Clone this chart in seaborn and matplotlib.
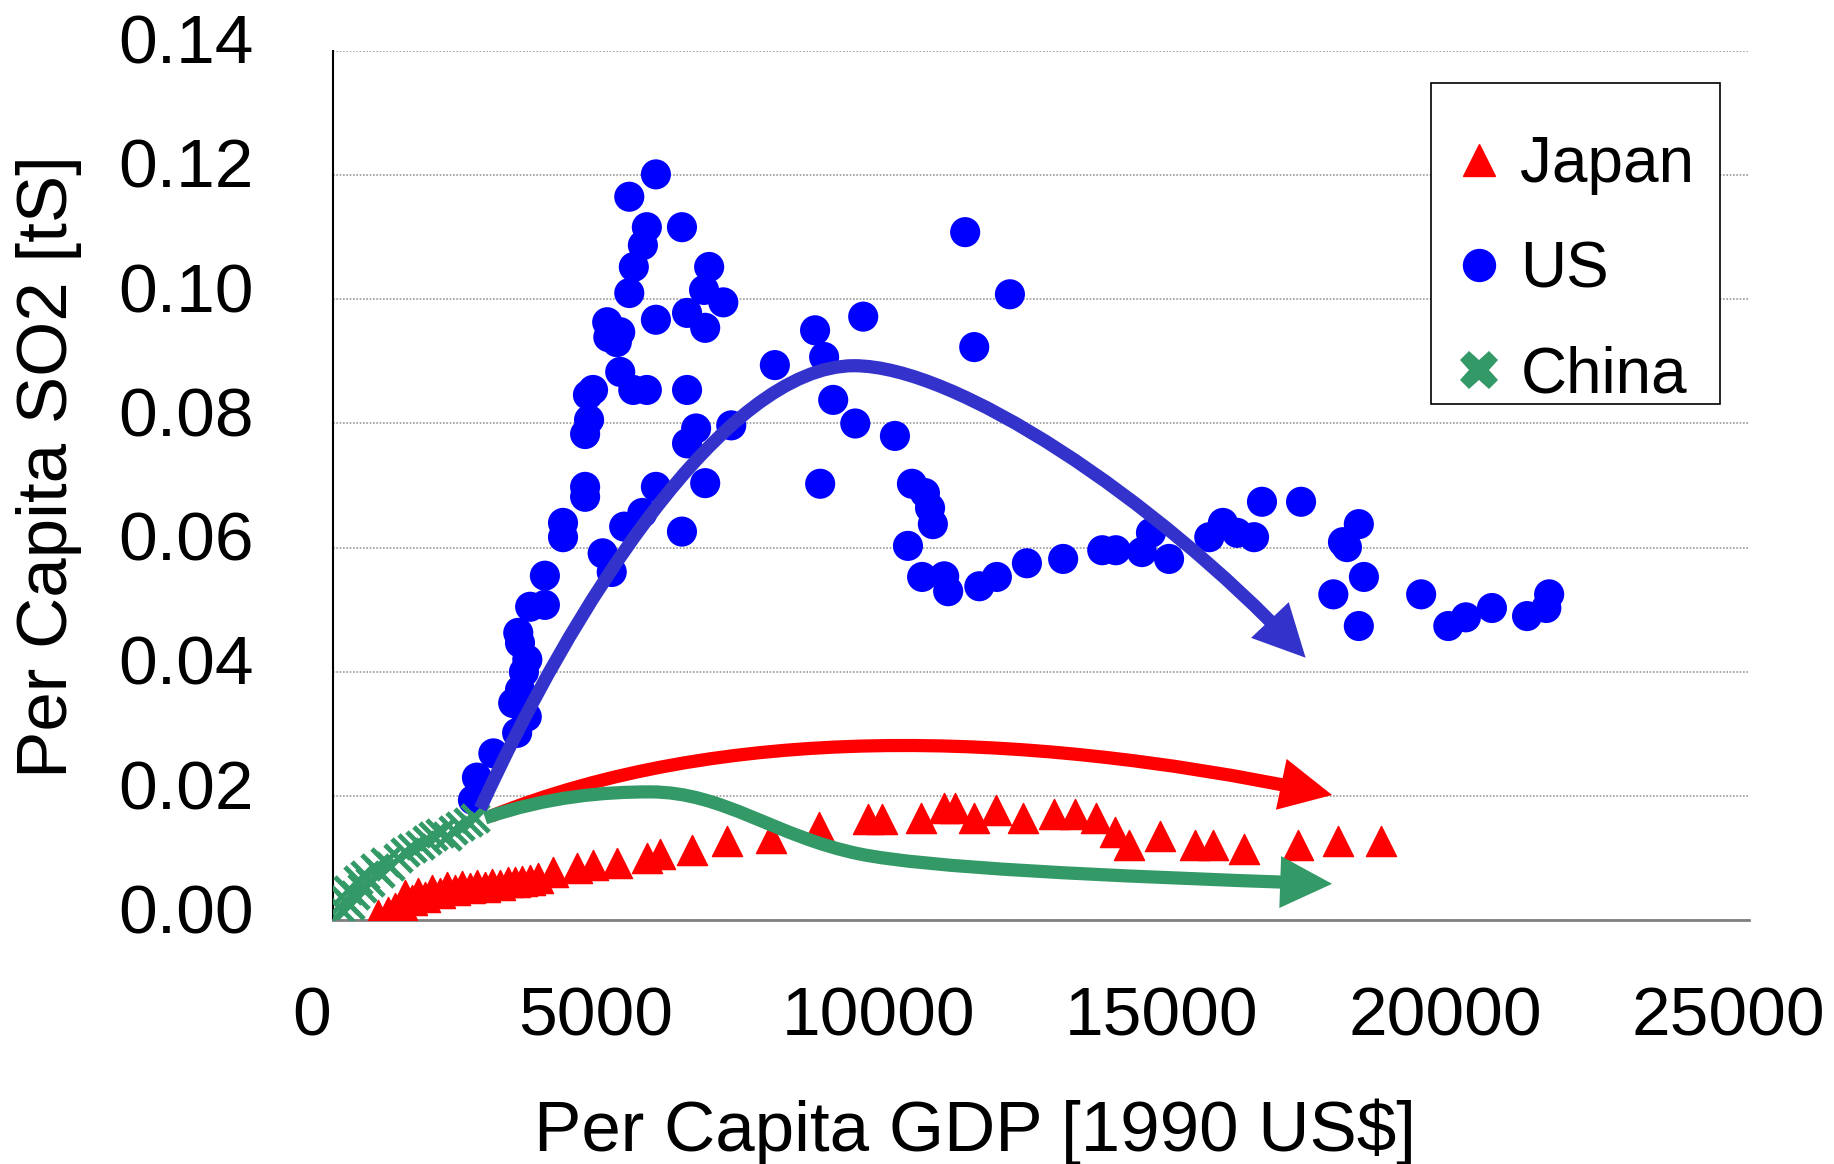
import numpy as np
import pandas as pd
import matplotlib
matplotlib.use("Agg")
import matplotlib.pyplot as plt
import seaborn as sns
import matplotlib.transforms as mtransforms
from matplotlib.path import Path
from matplotlib.patches import FancyArrowPatch, Rectangle
from matplotlib.lines import Line2D
from matplotlib.ticker import FormatStrFormatter

# values (GDP per capita, SO2 per capita)
japan_gdp = [794, 971, 1095, 1218, 1271, 1395, 1501, 1624, 1748, 1889, 2013, 2154,
             2278, 2419, 2542, 2684, 2807, 2948, 3090, 3213, 3337, 3478, 3619, 3885,
             4308, 4590, 5014, 5544, 5773, 6338, 6956, 7733, 8580, 9446, 9693, 10381,
             10787, 10982, 11317, 11706, 12182, 12730, 13100, 13471, 13806, 14054,
             14601, 15219, 15537, 16084, 17037, 17744, 18503]
japan_so2 = [0.0009, 0.0014, 0.0020, 0.0025, 0.0041, 0.0033, 0.0044, 0.0038, 0.0049,
             0.0044, 0.0054, 0.0049, 0.0056, 0.0052, 0.0057, 0.0054, 0.0059, 0.0057,
             0.0062, 0.0062, 0.0064, 0.0065, 0.0068, 0.0078, 0.0085, 0.0089, 0.0093,
             0.0101, 0.0107, 0.0113, 0.0128, 0.0133, 0.0150, 0.0163, 0.0163, 0.0165,
             0.0181, 0.0181, 0.0165, 0.0178, 0.0165, 0.0171, 0.0171, 0.0165, 0.0143,
             0.0122, 0.0136, 0.0122, 0.0122, 0.0115, 0.0122, 0.0128, 0.0128]

us_gdp = [2470, 2540, 2830, 3180, 3250, 3420, 3300, 3370, 3430, 3270, 3300, 3480,
          3740, 3740, 4060, 4060, 4450, 4450, 4450, 4520, 4500, 4590, 4760, 4920,
          5140, 5460, 5700, 6160, 6570, 6250, 6410, 7030, 5070, 5300, 5540, 6250,
          4840, 5070, 4860, 5010, 5230, 5310, 5470, 5540, 5230, 5700, 6160, 5700,
          6550, 6640, 6250, 6570, 6890, 7800, 8510, 8670, 8830, 8600, 9360, 9220,
          9920, 11320, 11160, 11950, 10220, 10450, 10540, 10590, 10150, 10400, 10790,
          10860, 11410, 11720, 12250, 12890, 13580, 13820, 14280, 14440, 14760, 15470,
          15710, 15960, 16260, 16400, 17090, 18110, 17830, 17900, 18200, 17660, 18110,
          19210, 19690, 20000, 20460, 21080, 21420, 21470]
us_so2 = [0.0194, 0.0230, 0.0269, 0.0350, 0.0302, 0.0328, 0.0371, 0.0400, 0.0420,
          0.0463, 0.0447, 0.0505, 0.0508, 0.0555, 0.0640, 0.0617, 0.0698, 0.0682,
          0.0783, 0.0806, 0.0846, 0.0854, 0.0591, 0.0561, 0.0634, 0.0656, 0.0698,
          0.0626, 0.0704, 0.0768, 0.0792, 0.0797, 0.0883, 0.0854, 0.0854, 0.0854,
          0.0963, 0.0947, 0.0939, 0.0931, 0.1010, 0.1052, 0.1087, 0.1116, 0.1165,
          0.1201, 0.1116, 0.0967, 0.1015, 0.1052, 0.0978, 0.0954, 0.0995, 0.0894,
          0.0950, 0.0907, 0.0838, 0.0703, 0.0972, 0.0800, 0.0780, 0.0923, 0.1108,
          0.1008, 0.0703, 0.0688, 0.0664, 0.0638, 0.0603, 0.0553, 0.0554, 0.0530,
          0.0538, 0.0553, 0.0575, 0.0582, 0.0596, 0.0596, 0.0593, 0.0624, 0.0582,
          0.0617, 0.0640, 0.0624, 0.0617, 0.0674, 0.0674, 0.0638, 0.0609, 0.0601,
          0.0553, 0.0525, 0.0474, 0.0525, 0.0474, 0.0488, 0.0503, 0.0490, 0.0503,
          0.0525]

china_gdp = [159, 212, 300, 265, 388, 441, 512, 565, 653, 742, 830, 918, 1006, 1148,
             1271, 1395, 1536, 1660, 1766, 1889, 2013, 2119, 2242, 2383, 2507]
china_so2 = [0.0017, 0.0033, 0.0025, 0.0049, 0.0041, 0.0065, 0.0052, 0.0073, 0.0062,
             0.0084, 0.0076, 0.0094, 0.0088, 0.0101, 0.0110, 0.0117, 0.0122, 0.0130,
             0.0136, 0.0141, 0.0136, 0.0146, 0.0152, 0.0159, 0.0165]

countries = ['Japan', 'US', 'China']
colors = {'Japan': '#FF0000', 'US': '#0000FF', 'China': '#339966'}

# hand drawn trend arrows (bezier control points, data coords)
red_arrow = [(2790, 0.0168), (6800, 0.0315), (12000, 0.0310), (17638, 0.0202)]
green_arrow = [(2684, 0.0165), (3800, 0.0200), (4800, 0.0207), (5600, 0.0207),
               (6900, 0.0207), (7800, 0.0135), (9300, 0.0107),
               (10500, 0.0085), (13500, 0.0072), (17638, 0.0059)]
blue_arrow = [(2600, 0.0180), (4200, 0.0500), (6900, 0.0893), (9200, 0.0893),
              (11000, 0.0893), (14500, 0.0680), (17170, 0.0423)]

sns.set_style('white')
plt.rcParams['font.family'] = ['Liberation Sans', 'DejaVu Sans']
plt.rcParams['text.color'] = 'black'
plt.rcParams['axes.labelcolor'] = 'black'
plt.rcParams['xtick.color'] = 'black'
plt.rcParams['ytick.color'] = 'black'

fig = plt.figure(figsize=(18.34, 11.64), dpi=100)
ax = fig.add_axes([0.1816, 0.2092, 0.7721, 0.7472])

sns.scatterplot(x=japan_gdp, y=japan_so2, marker='^', s=470, color=colors['Japan'],
                edgecolor=colors['Japan'], linewidth=1, ax=ax, zorder=3)
sns.scatterplot(x=us_gdp, y=us_so2, marker='o', s=470, color=colors['US'],
                edgecolor='none', ax=ax, zorder=3)
sns.scatterplot(x=china_gdp, y=china_so2, marker='x', s=380, color=colors['China'],
                linewidth=3.5, ax=ax, zorder=3)


def add_arrow(pts, color, z):
    codes = [Path.MOVETO] + [Path.CURVE4] * (len(pts) - 1)
    p = FancyArrowPatch(path=Path(pts, codes),
                        arrowstyle='-|>,head_length=1.1,head_width=0.55',
                        mutation_scale=20, lw=9.5, color=color,
                        transform=ax.transData, zorder=z,
                        joinstyle='miter', capstyle='butt')
    ax.add_patch(p)


add_arrow(red_arrow, '#FF0000', 5)
add_arrow(green_arrow, '#339966', 6)
add_arrow(blue_arrow, '#3333CC', 7)

ax.set_xlim(0, 25000)
ax.set_ylim(0, 0.14)
ax.set_xticks(range(0, 25001, 5000))
ax.set_yticks(np.arange(0, 0.1401, 0.02))
ax.yaxis.set_major_formatter(FormatStrFormatter('%.2f'))
ax.tick_params(direction='in', length=15.8, width=1.2, labelsize=50,
               color='black', labelcolor='black')
ax.tick_params(axis='x', pad=47)
ax.tick_params(axis='y', pad=57)

ax.yaxis.grid(True, color='#999999', lw=1.2, ls=(0, (1, 1)))
ax.xaxis.grid(False)
ax.set_axisbelow(True)
for s in ['top', 'right']:
    ax.spines[s].set_visible(False)
ax.spines['left'].set_color('black')
ax.spines['left'].set_linewidth(1.5)
ax.spines['bottom'].set_color('#808080')
ax.spines['bottom'].set_linewidth(2)

dx = mtransforms.ScaledTranslation(-0.21, 0, fig.dpi_scale_trans)
for t in ax.xaxis.get_major_ticks():
    t.label1.set_transform(t.label1.get_transform() + dx)
dy = mtransforms.ScaledTranslation(0, 0.12, fig.dpi_scale_trans)
for t in ax.yaxis.get_major_ticks():
    t.label1.set_transform(t.label1.get_transform() + dy)

ax.set_xlabel('Per Capita GDP [1990 US$]', fontsize=51, va='center', color='black')
ax.xaxis.set_label_coords(0.453, -0.243)
ax.set_ylabel('Per Capita SO2 [tS]', fontsize=51, va='center', color='black')
ax.yaxis.set_label_coords(-0.2006, 0.5214)

# legend
ax.add_patch(Rectangle((0.7754, 0.5938), 0.2041, 0.3691, transform=ax.transAxes,
                       facecolor='white', edgecolor='black', lw=1.2, zorder=8,
                       clip_on=False))
handles = [Line2D([], [], marker='^', ls='', color=colors['Japan'], markersize=23),
           Line2D([], [], marker='o', ls='', color=colors['US'], markersize=23),
           Line2D([], [], marker='X', ls='', color=colors['China'], markersize=28,
                  markeredgewidth=0)]
leg = ax.legend(handles, countries, loc='upper left', bbox_to_anchor=(0.7934, 0.9031),
                frameon=False, fontsize=46, handlelength=0.7, handletextpad=0.3,
                labelspacing=0.71, borderpad=0, borderaxespad=0)
for txt in leg.get_texts():
    txt.set_color('black')
leg.set_zorder(9)

plt.savefig('out.png', dpi=100)
